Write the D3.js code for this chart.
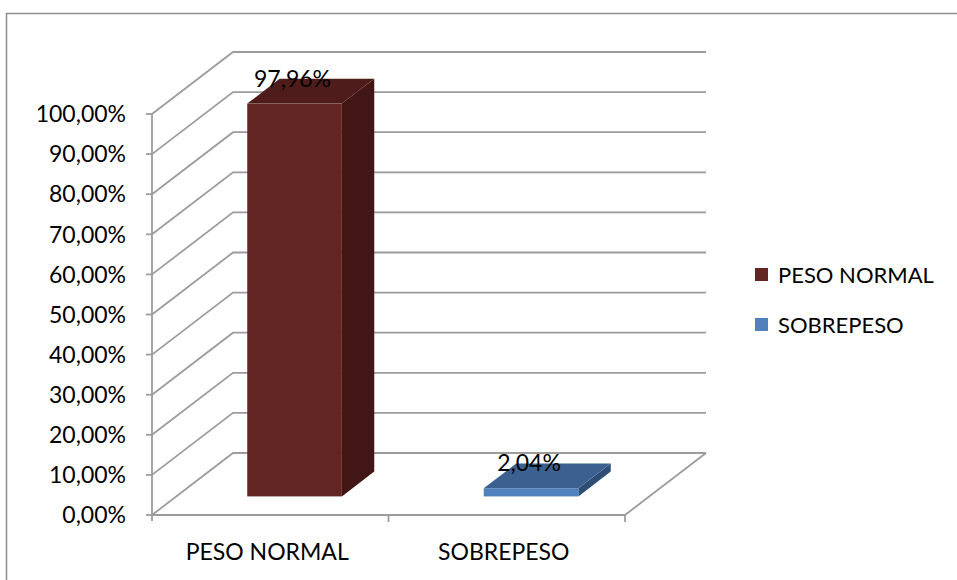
<!DOCTYPE html>
<html>
<head>
<meta charset="utf-8">
<script src="https://cdn.jsdelivr.net/npm/d3@7"></script>
<style>
  body { margin: 0; background: #fff; }
  text { font-family: Lato, "Open Sans", sans-serif; fill: #000; }
</style>
</head>
<body>
<svg id="chart" width="957" height="580"></svg>
<script>
// chart data
const categories = ["PESO NORMAL", "SOBREPESO"];
const values = [97.96, 2.04];
const yTicks = [0, 10, 20, 30, 40, 50, 60, 70, 80, 90, 100];

const colors = {
  "PESO NORMAL": { front: "#632523", top: "#4e1c1a", side: "#411614" },
  "SOBREPESO": { front: "#4f81bd", top: "#3c6190", side: "#2f4e76" }
};

const svg = d3.select("#chart");
const gridColor = "#9c9c9c";

// depth of the 3d box (back wall offset)
const DX = 81, DY = -62;
const proj = (px, py, z) => [px + z * DX, py + z * DY];

const xScale = d3.scaleBand().domain(categories).range([152, 625]);
const yScale = d3.scaleLinear().domain([0, 100]).range([515, 114]);

const fmt = v => v.toFixed(2).replace(".", ",") + "%";

// outer frame
svg.append("rect").attr("x", 6.5).attr("y", 13.5).attr("width", 1000).attr("height", 700)
  .attr("fill", "none").attr("stroke", "#8c8c8c").attr("stroke-width", 1.5);

// side wall + back wall grid
const line = d3.line();
const grid = svg.append("g").attr("fill", "none").attr("stroke", gridColor).attr("stroke-width", 1.8);
yTicks.forEach(t => {
  grid.append("path").attr("d", line([
    proj(152, yScale(t), 0), proj(152, yScale(t), 1), proj(625, yScale(t), 1)
  ]));
});

// floor right edge
grid.append("path").attr("d", line([proj(625, yScale(0), 1), proj(625, yScale(0), 0)]));

// value axis
const axis = svg.append("g").attr("stroke", gridColor).attr("stroke-width", 1.8);
axis.append("line").attr("x1", 152).attr("x2", 152).attr("y1", yScale(100)).attr("y2", yScale(0) + 6);
axis.append("line").attr("x1", 152).attr("x2", 625).attr("y1", yScale(0)).attr("y2", yScale(0));
axis.selectAll(".ytick").data(yTicks).enter().append("line")
  .attr("x1", 146).attr("x2", 152)
  .attr("y1", d => yScale(d)).attr("y2", d => yScale(d));
axis.selectAll(".xtick").data(categories).enter().append("line")
  .attr("x1", d => xScale(d) + xScale.bandwidth()).attr("x2", d => xScale(d) + xScale.bandwidth())
  .attr("y1", yScale(0)).attr("y2", yScale(0) + 7);

svg.selectAll(".ylabel").data(yTicks).enter().append("text")
  .attr("x", 126).attr("y", d => yScale(d)).attr("dy", "0.36em")
  .attr("text-anchor", "end").attr("font-size", 23)
  .text(d => d.toFixed(2).replace(".", ",") + "%");

svg.selectAll(".xlabel").data(categories).enter().append("text")
  .attr("x", d => xScale(d) + xScale.bandwidth() / 2 - 3).attr("y", 560)
  .attr("text-anchor", "middle").attr("font-size", 23)
  .text(d => d);

// bars
const z0 = 0.3, z1 = 0.7;
const bw = xScale.bandwidth() * 0.4;
categories.forEach((c, i) => {
  const v = values[i];
  const bx = xScale(c) + xScale.bandwidth() * 0.3;
  const yt = yScale(v), yb = yScale(0);
  const g = svg.append("g");
  g.append("path").attr("fill", colors[c].side).attr("d", line([
    proj(bx + bw, yt, z0), proj(bx + bw, yt, z1), proj(bx + bw, yb, z1), proj(bx + bw, yb, z0)
  ]) + "Z");
  g.append("path").attr("fill", colors[c].top).attr("d", line([
    proj(bx, yt, z0), proj(bx + bw, yt, z0), proj(bx + bw, yt, z1), proj(bx, yt, z1)
  ]) + "Z");
  const f0 = proj(bx, yt, z0), f1 = proj(bx + bw, yb, z0);
  g.append("rect").attr("fill", colors[c].front)
    .attr("x", f0[0]).attr("y", f0[1]).attr("width", f1[0] - f0[0]).attr("height", f1[1] - f0[1]);
  g.append("text")
    .attr("x", (f0[0] + f1[0]) / 2 - 2).attr("y", f0[1] - 17)
    .attr("text-anchor", "middle").attr("font-size", 23)
    .text(fmt(v));
});

// legend
const legend = svg.append("g").attr("transform", "translate(755,268)");
categories.forEach((c, i) => {
  const row = legend.append("g").attr("transform", `translate(0,${i * 50})`);
  row.append("rect").attr("width", 13).attr("height", 13).attr("fill", colors[c].front);
  row.append("text").attr("x", 23).attr("y", 7).attr("dy", "0.36em")
    .attr("font-size", 22).text(c);
});
</script>
</body>
</html>
